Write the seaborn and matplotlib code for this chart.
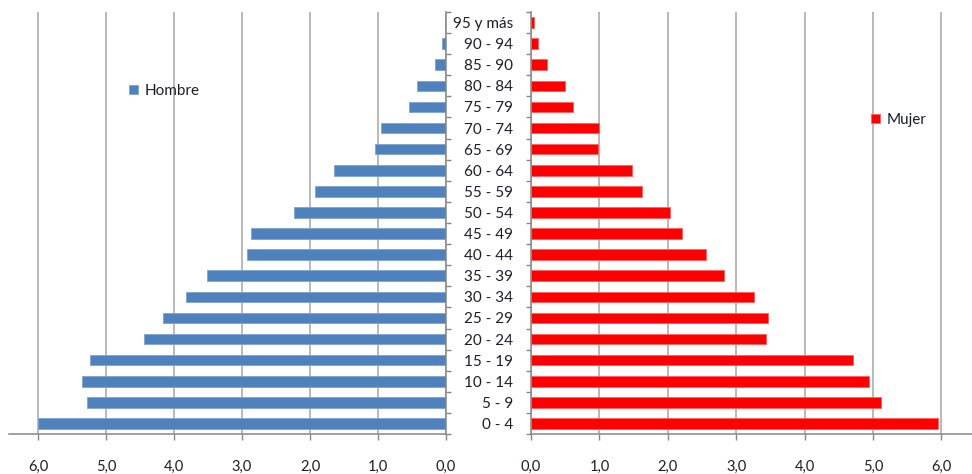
import pandas as pd
import matplotlib
matplotlib.use('Agg')
import matplotlib.pyplot as plt
import seaborn as sns
from matplotlib.ticker import FuncFormatter, MultipleLocator, FixedLocator

# Datos de la pirámide (% de población), de 0-4 hacia arriba
grupos = ['0 - 4', '5 - 9', '10 - 14', '15 - 19', '20 - 24', '25 - 29', '30 - 34',
          '35 - 39', '40 - 44', '45 - 49', '50 - 54', '55 - 59', '60 - 64', '65 - 69',
          '70 - 74', '75 - 79', '80 - 84', '85 - 90', '90 - 94', '95 y más']
hombre = [6.00, 5.28, 5.36, 5.24, 4.44, 4.16, 3.83, 3.51, 2.93, 2.87,
          2.24, 1.93, 1.65, 1.04, 0.96, 0.55, 0.43, 0.16, 0.06, 0.02]
mujer = [5.95, 5.11, 4.94, 4.71, 3.44, 3.47, 3.26, 2.82, 2.56, 2.21,
         2.03, 1.62, 1.48, 0.98, 1.00, 0.62, 0.49, 0.23, 0.10, 0.05]

df = pd.DataFrame({'grupo': grupos, 'Hombre': hombre, 'Mujer': mujer})
orden = grupos[::-1]  # seaborn pone la primera categoría arriba

sns.set_style('white')
plt.rcParams['font.family'] = ['Lato', 'DejaVu Sans']

azul = '#4F81BD'
rojo = '#FF0000'
gris = '#A6A6A6'
texto = '#1c1c2c'

fig = plt.figure(figsize=(9.72, 4.74), dpi=100)
ax1 = fig.add_axes([9 / 972, 40 / 474, 437 / 972, 422 / 474])
ax2 = fig.add_axes([531 / 972, 40 / 474, 441 / 972, 422 / 474])

sns.barplot(data=df, x='Hombre', y='grupo', order=orden, color=azul, saturation=1,
            width=0.5, edgecolor='#7FA3D0', linewidth=0.6, label='Hombre', ax=ax1)
sns.barplot(data=df, x='Mujer', y='grupo', order=orden, color=rojo, saturation=1,
            width=0.5, edgecolor='#FF6060', linewidth=0.6, label='Mujer', ax=ax2)

coma = FuncFormatter(lambda v, p: f'{v:.1f}'.replace('.', ','))
bordes = [i - 0.5 for i in range(len(grupos) + 1)]

for ax in (ax1, ax2):
    ax.set_xlabel('')
    ax.set_ylabel('')
    ax.set_ylim(len(grupos) - 0.5, -0.5)
    ax.xaxis.set_major_locator(MultipleLocator(1))
    ax.xaxis.set_major_formatter(coma)
    ax.grid(axis='x', color=gris, linewidth=1.1)
    ax.grid(axis='y', visible=False)
    ax.set_axisbelow(True)
    ax.tick_params(axis='x', direction='out', length=4.3, width=1, color='#868686',
                   pad=14, labelsize=10.5, labelcolor=texto, bottom=True)
    ax.yaxis.set_minor_locator(FixedLocator(bordes))
    ax.spines['top'].set_visible(False)
    for s in ax.spines.values():
        s.set_color('#868686')
        s.set_linewidth(1.1)

# panel de hombres: eje invertido, eje de categorías a la derecha
ax1.set_xlim(437 / 68, 0)
ax1.spines['left'].set_visible(False)
ax1.yaxis.tick_right()
ax1.tick_params(axis='y', which='major', length=0, labelright=False, labelleft=False)
ax1.tick_params(axis='y', which='minor', right=True, left=False, direction='out',
                length=3.6, width=1, color='#868686')

# panel de mujeres: etiquetas de edad en el centro
ax2.set_xlim(0, 441 / 68.4)
ax2.spines['right'].set_visible(False)
ax2.tick_params(axis='y', which='major', length=0, pad=13, labelsize=11,
                labelcolor=texto)
ax2.tick_params(axis='y', which='minor', left=True, direction='out',
                length=3.6, width=1, color='#868686')

ax1.legend(loc='center left', bbox_to_anchor=(129 / 972, (474 - 91) / 474),
           bbox_transform=fig.transFigure, frameon=False, fontsize=11,
           handlelength=0.6, handleheight=0.6, handletextpad=0.4,
           borderpad=0, borderaxespad=0, labelcolor=texto)
ax2.legend(loc='center left', bbox_to_anchor=(871 / 972, (474 - 120) / 474),
           bbox_transform=fig.transFigure, frameon=False, fontsize=11,
           handlelength=0.6, handleheight=0.6, handletextpad=0.4,
           borderpad=0, borderaxespad=0, labelcolor=texto)

fig.savefig('out.png', dpi=100)
